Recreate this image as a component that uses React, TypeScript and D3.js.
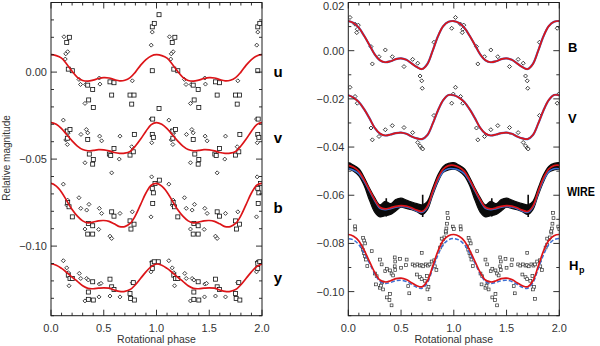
import React from "react";
import * as d3 from "d3";

const W = 600;
const H = 346;

// one rotation of the model curves, sampled every 0.05 in phase
const curvePhase = [0, 0.05, 0.1, 0.15, 0.2, 0.25, 0.3, 0.35, 0.4, 0.45, 0.5, 0.55, 0.6, 0.65, 0.7, 0.75, 0.8, 0.85, 0.9, 0.95];

// left panel fits (Stromgren u v b y)
const uFit = [0.01, 0.0095, 0.008, 0.0045, 0.0005, -0.003, -0.0048, -0.0052, -0.0046, -0.0037, -0.0032, -0.0034, -0.0043, -0.005, -0.0047, -0.0032, 0.0, 0.004, 0.0072, 0.0093];
const vFit = [-0.029, -0.03, -0.0325, -0.036, -0.0395, -0.0425, -0.0445, -0.0452, -0.045, -0.0446, -0.0447, -0.0453, -0.0462, -0.0467, -0.0466, -0.0456, -0.0425, -0.0385, -0.034, -0.0302];
const bFit = [-0.064, -0.0655, -0.069, -0.074, -0.079, -0.0828, -0.0855, -0.0866, -0.0862, -0.0855, -0.0853, -0.0858, -0.0872, -0.0888, -0.0888, -0.087, -0.0825, -0.076, -0.0695, -0.065];
const yFit = [-0.1103, -0.111, -0.1128, -0.1152, -0.1178, -0.1203, -0.1228, -0.1243, -0.1245, -0.1242, -0.124, -0.1242, -0.1252, -0.126, -0.126, -0.125, -0.1222, -0.1185, -0.1148, -0.1118];

// right panel fits
const BFit = [0.0123, 0.0115, 0.0095, 0.0062, 0.0024, -0.0015, -0.004, -0.0048, -0.0044, -0.0035, -0.0032, -0.0038, -0.0053, -0.0068, -0.0076, -0.0055, 0.0, 0.006, 0.0102, 0.012];
const VFit = [-0.0185, -0.0195, -0.0213, -0.0243, -0.028, -0.032, -0.0344, -0.0352, -0.0348, -0.0342, -0.034, -0.0345, -0.0356, -0.0364, -0.0367, -0.035, -0.0303, -0.0248, -0.0205, -0.0184];
const wireFit = [-0.0476, -0.0484, -0.0501, -0.0535, -0.0577, -0.0618, -0.065, -0.0657, -0.0652, -0.0646, -0.0643, -0.0645, -0.0652, -0.0662, -0.0667, -0.0645, -0.0584, -0.0528, -0.0491, -0.0477];
const wireFitBlue = [-0.049, -0.0496, -0.051, -0.0542, -0.0582, -0.0622, -0.0654, -0.066, -0.0656, -0.065, -0.0647, -0.0649, -0.0656, -0.0666, -0.0671, -0.065, -0.0592, -0.0538, -0.0502, -0.049];
const hpFit = [-0.0763, -0.077, -0.079, -0.0828, -0.0874, -0.092, -0.0952, -0.096, -0.0955, -0.0946, -0.0944, -0.095, -0.0963, -0.0976, -0.098, -0.0955, -0.0895, -0.0832, -0.0788, -0.0768];
const hpFitBlue = [-0.078, -0.0786, -0.0805, -0.084, -0.0882, -0.0925, -0.0958, -0.0966, -0.0962, -0.0955, -0.0953, -0.0958, -0.097, -0.0982, -0.0986, -0.0963, -0.0905, -0.0848, -0.0805, -0.0785];

// WIRE photometry, upper and lower edge of the dense band
const wireHigh = [-0.0465, -0.0475, -0.049, -0.0525, -0.057, -0.061, -0.064, -0.0625, -0.0635, -0.0618, -0.0612, -0.062, -0.0628, -0.0635, -0.064, -0.0625, -0.057, -0.0515, -0.048, -0.0468];
const wireLow = [-0.0492, -0.05, -0.052, -0.056, -0.062, -0.067, -0.069, -0.0685, -0.068, -0.0665, -0.065, -0.0655, -0.066, -0.0668, -0.068, -0.066, -0.06, -0.0545, -0.0505, -0.0495];
// short spikes in the WIRE data: phase, top, bottom
const wireSpikes = [[0.36, -0.0612, -0.0688], [0.705, -0.0598, -0.069]];

// observations [phase, magnitude]
const uDiamonds = [[0.123, 0.0203], [0.158, 0.0117], [0.14, 0.0105], [0.135, 0.0075], [0.265, -0.0042], [0.28, -0.0071], [0.329, -0.0071], [0.322, -0.018], [0.458, -0.0034], [0.464, -0.0069], [0.771, -0.005], [0.95, 0.0155], [0.96, 0.023]];
const uSquares = [[0.174, 0.02], [0.149, 0.017], [0.164, 0.0017], [0.202, 0.0008], [0.348, -0.0075], [0.395, -0.01], [0.357, -0.016], [0.401, -0.0203], [0.559, -0.0056], [0.597, -0.0061], [0.575, -0.0132], [0.749, -0.0132], [0.787, -0.0132], [0.765, -0.0184], [0.96, 0.026], [0.979, 0.028], [1.024, 0.033], [0.96, 0.0008], [1.024, -0.0209]];
const vDiamonds = [[0.117, -0.0276], [0.14, -0.0337], [0.16, -0.0352], [0.14, -0.039], [0.155, -0.0416], [0.284, -0.0358], [0.335, -0.033], [0.348, -0.0349], [0.461, -0.0368], [0.48, -0.0395], [0.654, -0.0368], [0.322, -0.0521], [0.647, -0.05], [0.765, -0.0429], [0.948, -0.027], [0.955, -0.0406]];
const vSquares = [[0.155, -0.0339], [0.18, -0.033], [0.155, -0.038], [0.348, -0.0387], [0.363, -0.0471], [0.401, -0.0502], [0.395, -0.0529], [0.553, -0.0471], [0.566, -0.0479], [0.597, -0.0439], [0.749, -0.0477], [0.78, -0.0458], [0.79, -0.0358], [0.96, -0.0358], [0.97, -0.0375], [0.964, -0.027]];
const bDiamonds = [[0.117, -0.0644], [0.158, -0.0736], [0.149, -0.0764], [0.265, -0.0722], [0.282, -0.0783], [0.338, -0.0793], [0.36, -0.076], [0.322, -0.0902], [0.452, -0.0904], [0.458, -0.0783], [0.48, -0.0812], [0.575, -0.0579], [0.559, -0.0943], [0.575, -0.0956], [0.654, -0.0812], [0.771, -0.0803], [0.954, -0.0602], [0.948, -0.0832]];
const bSquares = [[0.158, -0.0749], [0.171, -0.0774], [0.202, -0.0832], [0.354, -0.087], [0.395, -0.0883], [0.348, -0.0931], [0.395, -0.0931], [0.575, -0.0803], [0.597, -0.0828], [0.758, -0.0902], [0.787, -0.0874], [0.749, -0.0855], [0.96, -0.0668], [0.97, -0.0694], [0.964, -0.0755], [0.986, -0.064], [1.027, -0.0621]];
const yDiamonds = [[0.117, -0.1084], [0.149, -0.1125], [0.164, -0.1153], [0.171, -0.1228], [0.268, -0.1157], [0.282, -0.1186], [0.338, -0.1186], [0.354, -0.1195], [0.322, -0.1315], [0.458, -0.1218], [0.474, -0.1214], [0.455, -0.1292], [0.559, -0.1287], [0.654, -0.1292], [0.771, -0.121], [0.948, -0.1148], [0.954, -0.1091]];
const ySquares = [[0.164, -0.1167], [0.18, -0.1186], [0.202, -0.1186], [0.354, -0.1264], [0.354, -0.1306], [0.401, -0.131], [0.395, -0.1205], [0.559, -0.119], [0.575, -0.1234], [0.597, -0.1249], [0.749, -0.1272], [0.755, -0.1301], [0.79, -0.131], [0.78, -0.121], [0.96, -0.1099], [0.979, -0.109], [1.017, -0.109], [0.96, -0.1128]];
const BDiamonds = [[0.016, 0.0138], [0.064, 0.011], [0.095, 0.0106], [0.085, 0.0089], [0.08, 0.0075], [0.215, 0.0017], [0.228, -0.0055], [0.291, -0.0025], [0.351, 0.0003], [0.417, -0.0025], [0.528, -0.0066], [0.61, -0.0036], [0.658, -0.0052], [0.68, -0.0105], [0.696, -0.0125], [0.701, -0.0156], [0.812, 0.0035], [0.98, 0.0093]];
const VDiamonds = [[0.016, -0.0152], [0.064, -0.019], [0.085, -0.0218], [0.215, -0.0321], [0.228, -0.037], [0.291, -0.0356], [0.351, -0.0328], [0.417, -0.0311], [0.528, -0.0319], [0.61, -0.034], [0.658, -0.0381], [0.68, -0.0395], [0.696, -0.0404], [0.705, -0.0408], [0.812, -0.0269], [0.98, -0.0218], [0.995, -0.018]];
const hpSquares = [[0.064, -0.0729], [0.066, -0.0742], [0.14, -0.0777], [0.15, -0.0788], [0.16, -0.08], [0.127, -0.0812], [0.137, -0.0826], [0.148, -0.084], [0.158, -0.0853], [0.167, -0.0867], [0.18, -0.0894], [0.222, -0.0832], [0.3, -0.0867], [0.316, -0.0887], [0.253, -0.0925], [0.269, -0.0936], [0.263, -0.097], [0.3, -0.0984], [0.33, -0.0991], [0.31, -0.0975], [0.32, -0.0962], [0.35, -0.0915], [0.365, -0.0905], [0.395, -0.0912], [0.41, -0.0925], [0.425, -0.0933], [0.365, -0.1024], [0.39, -0.1035], [0.41, -0.1057], [0.395, -0.101], [0.44, -0.0858], [0.445, -0.0875], [0.44, -0.0895], [0.445, -0.091], [0.49, -0.0864], [0.5, -0.0901], [0.553, -0.0867], [0.547, -0.089], [0.568, -0.0977], [0.578, -0.1007], [0.61, -0.0887], [0.63, -0.0892], [0.655, -0.0887], [0.68, -0.0892], [0.695, -0.089], [0.71, -0.0895], [0.735, -0.0887], [0.755, -0.0892], [0.77, -0.0887], [0.65, -0.0929], [0.68, -0.094], [0.695, -0.0948], [0.725, -0.0955], [0.745, -0.0935], [0.76, -0.0981], [0.75, -0.0991], [0.77, -0.103], [0.696, -0.0839], [0.79, -0.0875], [0.815, -0.087], [0.82, -0.0895], [0.835, -0.091], [0.87, -0.0817], [0.885, -0.0805], [0.9, -0.0782], [0.91, -0.0775], [0.925, -0.0755], [0.93, -0.0738], [0.945, -0.0695], [0.935, -0.0718], [0.885, -0.078], [0.94, -0.0673], [0.923, -0.075], [0.99, -0.073], [1.0, -0.074]];

// axes
const phaseMajor = [0, 0.5, 1, 1.5, 2];
const leftMajor = [0, -0.05, -0.1];
const rightMajor = [0.02, 0, -0.02, -0.04, -0.06, -0.08, -0.1];

const RED = "#dc1418";
const BLUE = "#3c6fd2";
const INK = "#1c1c1c";
const fmt = d3.format(".2f");

// curve over two rotations (padded one step each side so the spline is smooth at the edges)
const twoCycles = (vals: number[]) => {
  const pts: [number, number][] = [[-0.05, vals[vals.length - 1]]];
  for (let k = 0; k < 2; k++) curvePhase.forEach((p, i) => pts.push([p + k, vals[i]]));
  pts.push([2, vals[0]], [2.05, vals[1]]);
  return pts;
};
// each observation plotted at phase and phase + 1
const repeat = (obs: number[][]) =>
  obs.flatMap(([p, v]) => [[p, v], [p + 1, v]]).filter((d) => d[0] <= 2.03);

type PanelProps = {
  id: string;
  x0: number;
  x1: number;
  domain: [number, number];
  major: number[];
  children: (xs: d3.ScaleLinear<number, number>, ys: d3.ScaleLinear<number, number>) => React.ReactNode;
};

const TOP = 2.5;
const BOTTOM = 315.7;

function Panel({ id, x0, x1, domain, major, children }: PanelProps) {
  const xs = d3.scaleLinear().domain([0, 2]).range([x0, x1]);
  const ys = d3.scaleLinear().domain(domain).range([BOTTOM, TOP]);
  const xMinor = d3.range(0, 20.5, 1).map((i) => i / 10);
  const yMinor = d3.range(Math.round(domain[0] * 100), Math.round(domain[1] * 100) + 0.5, 1).map((i) => i / 100);
  const isMajX = (t: number) => phaseMajor.some((m) => Math.abs(m - t) < 1e-6);
  const isMajY = (t: number) => major.some((m) => Math.abs(m - t) < 1e-6);
  return (
    <g>
      <defs>
        <clipPath id={id}>
          <rect x={x0} y={TOP} width={x1 - x0} height={BOTTOM - TOP} />
        </clipPath>
      </defs>
      <g clipPath={`url(#${id})`}>{children(xs, ys)}</g>
      <rect x={x0} y={TOP} width={x1 - x0} height={BOTTOM - TOP} fill="none" stroke={INK} strokeWidth={1} />
      {xMinor.map((t) => {
        const len = isMajX(t) ? 6 : 3;
        const x = xs(t);
        return (
          <g key={"x" + t} stroke={INK} strokeWidth={0.9}>
            <line x1={x} x2={x} y1={BOTTOM} y2={BOTTOM - len} />
            <line x1={x} x2={x} y1={TOP} y2={TOP + len} />
          </g>
        );
      })}
      {yMinor.map((t) => {
        const len = isMajY(t) ? 6 : 3;
        const y = ys(t);
        return (
          <g key={"y" + t} stroke={INK} strokeWidth={0.9}>
            <line x1={x0} x2={x0 + len} y1={y} y2={y} />
            <line x1={x1} x2={x1 - len} y1={y} y2={y} />
          </g>
        );
      })}
      {phaseMajor.map((t) => (
        <text key={"xl" + t} x={xs(t)} y={332} textAnchor="middle" fontSize={11} fill="#333">
          {t.toFixed(1)}
        </text>
      ))}
      {major.map((t) => (
        <text key={"yl" + t} x={x0 - 4} y={Math.max(ys(t) + 4, 10)} textAnchor="end" fontSize={11} fill="#333">
          {fmt(t)}
        </text>
      ))}
      <text x={(x0 + x1) / 2} y={343} textAnchor="middle" fontSize={10.5} fill="#333">
        Rotational phase
      </text>
    </g>
  );
}

const diamond = (x: number, y: number, r: number) => `M${x},${y - r}L${x + r},${y}L${x},${y + r}L${x - r},${y}Z`;

function Diamonds({ data, xs, ys, r = 2 }: any) {
  return (
    <g fill="white" stroke="#111" strokeWidth={0.8}>
      {repeat(data).map((d, i) => (
        <path key={i} d={diamond(xs(d[0]), ys(d[1]), r)} />
      ))}
    </g>
  );
}

function Squares({ data, xs, ys, s = 4, color = "#111", sw = 0.8 }: any) {
  return (
    <g fill="white" stroke={color} strokeWidth={sw}>
      {repeat(data).map((d, i) => (
        <rect key={i} x={xs(d[0]) - s / 2} y={ys(d[1]) - s / 2} width={s} height={s} />
      ))}
    </g>
  );
}

function Fit({ vals, xs, ys, color = RED, width = 1.7, dash }: any) {
  const line = d3
    .line<[number, number]>()
    .x((d) => xs(d[0]))
    .y((d) => ys(d[1]))
    .curve(d3.curveCatmullRom.alpha(0.5));
  return <path d={line(twoCycles(vals)) || ""} fill="none" stroke={color} strokeWidth={width} strokeDasharray={dash} />;
}

function WireBand({ xs, ys }: any) {
  const pts: [number, number, number][] = [[-0.05, wireHigh[19], wireLow[19]]];
  for (let k = 0; k < 2; k++) curvePhase.forEach((p, i) => pts.push([p + k, wireHigh[i], wireLow[i]]));
  pts.push([2, wireHigh[0], wireLow[0]], [2.05, wireHigh[1], wireLow[1]]);
  const area = d3
    .area<[number, number, number]>()
    .x((d) => xs(d[0]))
    .y0((d) => ys(d[2]))
    .y1((d) => ys(d[1]))
    .curve(d3.curveCatmullRom.alpha(0.5));
  const spikes = wireSpikes.flatMap(([p, a, b]) => [[p, a, b], [p + 1, a, b]]);
  return (
    <g>
      <path d={area(pts) || ""} fill="#0a0a0a" stroke="#0a0a0a" strokeWidth={1.2} />
      {spikes.map((s, i) => (
        <line key={i} x1={xs(s[0])} x2={xs(s[0])} y1={ys(s[1])} y2={ys(s[2])} stroke="#0a0a0a" strokeWidth={1.6} />
      ))}
    </g>
  );
}

const labelStyle = { fontFamily: "Liberation Sans, Arial, sans-serif", fontWeight: 700 as const, fill: "#000" };

export default function App() {
  return (
    <svg
      width={W}
      height={H}
      style={{ position: "absolute", left: 0, top: 0, background: "white", fontFamily: "Liberation Sans, Arial, sans-serif" }}
    >
      <rect width={W} height={H} fill="white" />
      <Panel id="clipL" x0={51} x1={262} domain={[-0.14, 0.04]} major={leftMajor}>
        {(xs, ys) => (
          <g>
            <Diamonds data={uDiamonds} xs={xs} ys={ys} />
            <Squares data={uSquares} xs={xs} ys={ys} />
            <Diamonds data={vDiamonds} xs={xs} ys={ys} />
            <Squares data={vSquares} xs={xs} ys={ys} />
            <Diamonds data={bDiamonds} xs={xs} ys={ys} />
            <Squares data={bSquares} xs={xs} ys={ys} />
            <Diamonds data={yDiamonds} xs={xs} ys={ys} />
            <Squares data={ySquares} xs={xs} ys={ys} />
            <Fit vals={uFit} xs={xs} ys={ys} />
            <Fit vals={vFit} xs={xs} ys={ys} />
            <Fit vals={bFit} xs={xs} ys={ys} />
            <Fit vals={yFit} xs={xs} ys={ys} />
          </g>
        )}
      </Panel>
      <Panel id="clipR" x0={348.3} x1={559.3} domain={[-0.11, 0.02]} major={rightMajor}>
        {(xs, ys) => (
          <g>
            <Diamonds data={BDiamonds} xs={xs} ys={ys} />
            <Diamonds data={VDiamonds} xs={xs} ys={ys} />
            <WireBand xs={xs} ys={ys} />
            <Squares data={hpSquares} xs={xs} ys={ys} s={2.8} color="#333" sw={0.7} />
            <Fit vals={BFit} xs={xs} ys={ys} color={BLUE} width={2.2} />
            <Fit vals={BFit} xs={xs} ys={ys} />
            <Fit vals={VFit} xs={xs} ys={ys} color={BLUE} width={2.2} />
            <Fit vals={VFit} xs={xs} ys={ys} />
            <Fit vals={wireFitBlue} xs={xs} ys={ys} color={BLUE} width={1.6} />
            <Fit vals={wireFit} xs={xs} ys={ys} />
            <Fit vals={hpFitBlue} xs={xs} ys={ys} color={BLUE} width={1.5} dash="4,2" />
            <Fit vals={hpFit} xs={xs} ys={ys} />
          </g>
        )}
      </Panel>
      <text transform="translate(10,158) rotate(-90)" textAnchor="middle" fontSize={10} fill="#333">
        Relative magnitude
      </text>
      <g style={labelStyle} fontSize={15} textAnchor="middle">
        <text x={278} y={77}>u</text>
        <text x={278} y={143}>v</text>
        <text x={278} y={213}>b</text>
        <text x={278} y={283}>y</text>
      </g>
      <g style={labelStyle} fontSize={13}>
        <text x={568} y={52}>B</text>
        <text x={568} y={123}>V</text>
        <text x={567} y={196} fontSize={12} textLength={28} lengthAdjust="spacingAndGlyphs">WIRE</text>
        <text x={569} y={270}>H</text>
        <text x={579} y={273} fontSize={9}>p</text>
      </g>
    </svg>
  );
}
